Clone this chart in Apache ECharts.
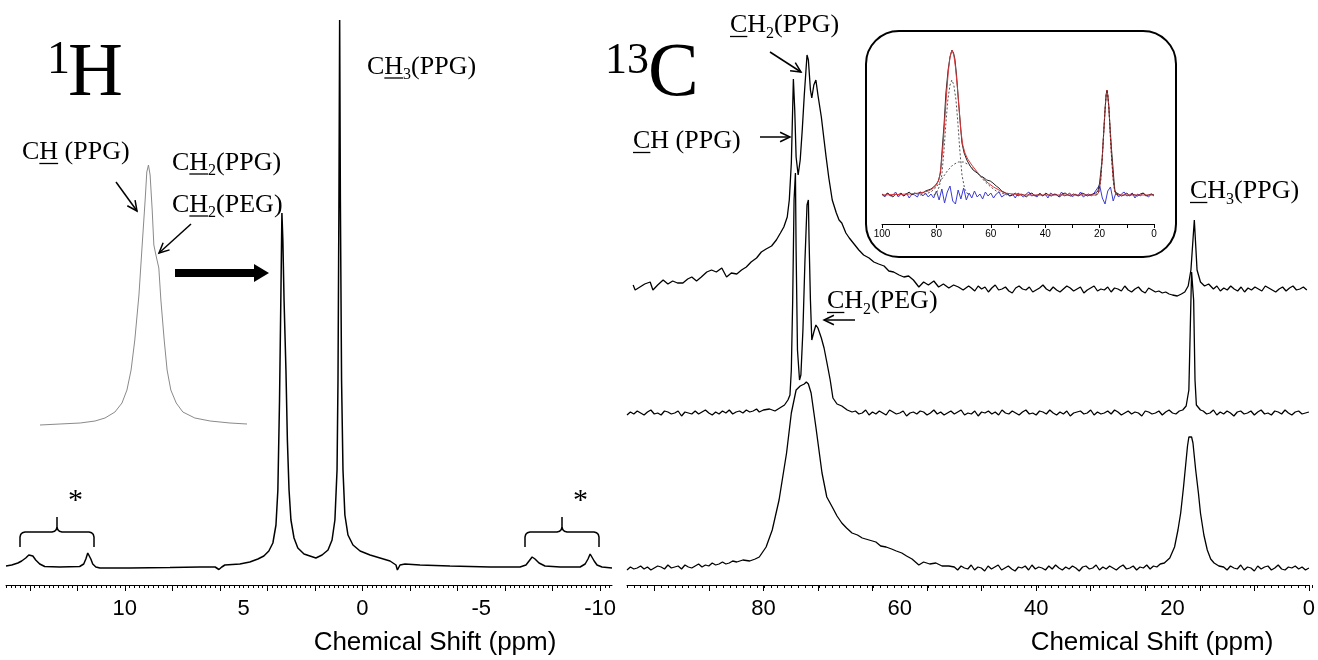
<!DOCTYPE html>
<html>
<head>
<meta charset="utf-8">
<script src="https://cdn.jsdelivr.net/npm/echarts@6/dist/echarts.min.js"></script>
<style>
  html, body { margin: 0; padding: 0; background: #fff; }
  #chart { width: 1318px; height: 660px; }
</style>
</head>
<body>
<div id="chart"></div>
<script>
// ---------- helpers ----------
// spread a run of read-off baseline values evenly between two shifts
function span(from, to, vals) {
  const n = vals.length, step = n > 1 ? (to - from) / (n - 1) : 0;
  return vals.map((v, i) => [+(from + i * step).toFixed(3), v]);
}

// ---------- 1H MAS spectrum: [ppm, intensity] ----------
const H_MAIN = [
  [15.0,1],[14.76,2],[14.5,4],[14.34,6],[14.17,9],[14.04,12],[13.96,13],[13.87,11],[13.75,7],[13.58,3],[13.37,0.5],
  [12.74,0],[11.9,0.5],[11.73,3],[11.64,8],[11.56,14],[11.52,14],[11.43,8],[11.35,3],[11.22,0],[11.05,-1],
  [9.79,-1],[8.1,-0.5],[6.84,0],[6.2,0],[6.04,-2.5],[5.92,0],[5.79,2],[5.16,3],[4.74,5],[4.4,8],[4.15,11],
  [3.94,16],[3.77,24],[3.64,42],[3.56,77],[3.49,167],[3.43,277],[3.39,354],[3.35,327],[3.30,267],[3.26,232],
  [3.22,197],[3.16,127],[3.09,77],[3.01,47],[2.88,29],[2.72,19],[2.46,13],[2.21,11],[1.96,9],[1.70,12],
  [1.45,17],[1.28,27],[1.16,47],[1.07,97],[1.03,187],[0.99,367],[0.96,547],[0.93,367],[0.88,187],[0.82,97],
  [0.74,52],[0.61,32],[0.40,22],[0.10,16],[-0.32,12],[-0.74,9],[-1.16,6],[-1.41,2],[-1.47,-3],[-1.58,2],
  [-1.79,3],[-2.42,2],[-3.68,1],[-5.37,0],[-6.63,0],[-6.88,2],[-7.01,6],[-7.14,10],[-7.26,8],[-7.43,4],
  [-7.68,1],[-8.32,0],[-9.16,0],[-9.37,3],[-9.49,8],[-9.58,13],[-9.66,11],[-9.75,6],[-9.87,2],[-10.08,0],[-10.5,-1]
];

// expanded 1H trace (grey), [ppm, intensity]
const H_INSET = [
  [6.0,0],[5.52,1],[5.03,2],[4.67,4],[4.43,7],[4.19,13],[4.02,22],[3.9,35],[3.8,55],[3.71,85],[3.61,130],
  [3.54,175],[3.46,225],[3.42,253],[3.38,260],[3.34,250],[3.29,215],[3.25,180],[3.2,170],[3.16,168],[3.13,157],
  [3.08,125],[3.0,85],[2.93,55],[2.84,35],[2.71,22],[2.55,13],[2.26,7],[1.89,4],[1.41,2],[1.0,1]
];

// ---------- 13C spectra: [ppm, intensity above own baseline] ----------
const C_TOP = [
  [99.1,4],[98.8,-1],[98.1,2],[97.4,5],[96.6,7],[96.2,-1],[95.5,4],[94.7,9],[94.0,5],[93.3,8],[92.6,6],[91.8,6],
  [91.1,10],[90.5,12],[89.8,8],[89.1,12],[88.3,17],[87.6,19],[86.9,17],[86.1,21],[85.4,12],[84.7,16],[83.9,15],
  [83.2,19],[82.5,22],[81.8,27],[81.0,31],[80.3,37],[79.6,40],[78.8,43],[78.1,49],[77.5,56],[77.0,62],[76.5,72],
  [76.2,89],[75.9,126],[75.6,210],[75.4,179],[75.2,132],[74.9,114],[74.6,129],[74.3,159],[74.0,194],[73.6,234],
  [73.4,229],[73.1,199],[72.9,191],[72.6,204],[72.3,209],[72.0,194],[71.5,172],[71.1,149],[70.8,132],[70.4,111],
  [69.9,89],[69.3,76],[68.9,69],[68.5,66],[67.9,56],[67.4,51],[66.7,45],[66.0,39],[65.3,34],[64.5,31],[63.8,27],
  [63.1,25],[62.3,23],[61.6,18],[60.9,17],[60.1,14],[59.4,12],[58.7,13],[58.0,9],[57.2,2],[56.5,7],[55.8,4],
  [55.0,8],[54.3,2],[53.6,5],[52.8,1],[52.1,4],[51.4,2],[50.7,-1],[49.9,3]
].concat(
  span(49.5, 20.0, [1,-2,3,0,2,-3,1,4,-1,0,2,-2,-4,1,3,0,-1,2,-3,-1,1,4,0,-2,2,-1,-3,0,3,1,-2,0,2,-4,-1,1,3,-2,0,-1,2,-3,1,0,-2,3,-1,-3,0,2,-2,-4,1,-1,-3,-2,-4,-3,-5,-6]),
  [[19.3,-7],[18.7,-5],[18.2,-3],[17.7,3],[17.3,19],[17.0,49],[16.8,69],[16.6,44],[16.4,19],[15.9,7],[15.3,3],[14.7,5]],
  span(14.0, 0.3, [0,3,-2,1,-1,3,0,-2,2,-3,1,-1,2,0,-2,3,1,-1,-3,0,2,-2,1,3,-1,0,2,-1])
);

const C_MID = [].concat(
  span(100, 81, [-2,1,-1,2,0,-2,1,3,-1,0,-2,2,1,-1,0,2,-3,1,0,-1,2,-1,1,3,0,-2,1,-1,2,0,3,-1,1,2,0,3,1,2,4]),
  [[80.6,1],[80.0,3],[79.1,4],[78.3,2],[77.6,5],[76.9,8],[76.4,13],[76.1,18],[75.9,43],[75.7,113],[75.5,213],
   [75.3,240],[75.2,163],[75.0,63],[74.7,33],[74.5,38],[74.2,83],[73.9,153],[73.6,208],[73.4,213],[73.3,173],
   [73.1,113],[72.9,73],[72.6,81],[72.3,88],[72.0,85],[71.5,75],[71.1,65],[70.7,51],[70.2,33],[69.8,15],
   [69.2,9],[68.5,7],[67.7,3],[67.0,1]],
  span(66.5, 19, [2,-1,0,3,-2,1,-1,2,0,-2,3,1,-1,0,2,-3,0,1,-1,2,1,-2,0,3,-1,1,-2,0,2,-1,1,3,-2,0,-1,2,-3,1,0,2,-1,1,-2,3,0,-1,2,0,-2,1,3,-1,0,-2,2,1,-1,3,0,-2,1,-1,2,-3,0,1,2,-1,0,3,-2,1,-1,0,2,-1,3,1,-2,0,2,-1,1,0,-3,2,1,-1,0,2,-2,1,3,0,-1,2]),
  [[18.5,3],[18.0,7],[17.6,23],[17.4,83],[17.2,141],[16.9,113],[16.7,33],[16.5,8],[15.9,3]],
  span(15.5, 0, [2,-1,0,3,-2,1,-1,2,0,-3,1,2,-1,0,2,-2,1,3,-1,0,-2,2,1,-1,3,0,-2,1,2,-1,0,1])
);

const C_BOT = [].concat(
  span(100, 84.5, [-2,1,-1,0,2,-1,1,-2,0,2,1,-1,3,0,1,2,-1,3,1,0,2,4,1,3,2,5,3,4,6,4,5,7]),
  [[83.9,6],[83.0,8],[82.0,7],[81.2,9],[80.6,11],[79.6,21],[78.7,38],[77.7,68],[76.6,115],[75.9,155],[75.2,178],
   [74.6,182],[74.0,184],[73.7,186],[73.4,184],[73.0,175],[72.3,141],[71.4,95],[70.7,71],[69.9,61],[69.2,52],
   [68.5,45],[67.8,40],[67.0,35],[66.2,33],[65.5,30],[64.5,28],[63.5,26],[62.8,22],[62.0,21],[61.2,19],[60.5,17],
   [59.7,15],[59.0,12],[58.2,9],[57.2,3],[56.5,6],[55.6,4],[54.7,5],[53.8,2],[52.8,2]],
  span(52, 21.8, [1,-2,2,0,-1,3,-2,1,0,-3,2,-1,1,3,-2,0,2,-1,-3,1,0,2,-2,3,-1,1,0,-2,2,-1,3,0,-2,1,-1,2,0,-3,1,2,-1,0,3,-2,1,-1,2,0,-2,1,3,-1,0,2,-2,1,0,3,-1,2,1,4]),
  [[21.2,5],[20.4,10],[19.7,21],[19.2,38],[18.8,55],[18.4,80],[18.1,101],[17.8,122],[17.6,131],[17.2,131],
   [17.0,125],[16.6,98],[16.2,75],[15.9,55],[15.4,33],[14.9,18],[14.4,9],[13.9,5],[13.2,2]],
  span(12.5, 0, [1,-2,2,0,-1,3,-2,1,0,-3,2,-1,1,2,-2,0,3,-1,-2,1,0,2,-1,1,-2,0])
);

// vertical stacking of the three 13C traces (panel units)
const C_OFFSETS = { top: 296, mid: 172, bot: 17 };

// ---------- deconvolution inset: [ppm, intensity] ----------
const FIT_EXP = [].concat(
  span(100, 84, [1,-1,2,0,-2,1,0,2,-1,1,3,0,2,1,3,2,4]),
  [[83,5],[82,6],[81,8],[80,11],[79.3,14],[78.5,22],[77.9,45],[77.2,70],[76.5,102],[75.7,125],[75.0,138],
   [74.3,145],[73.7,142],[73.2,136],[72.6,120],[72.1,102],[71.4,78],[70.6,52],[69.8,42],[68.8,35],[67.6,29],
   [66.5,25],[65.0,22],[63.8,19],[62.9,18],[61.5,15],[60.2,14],[59.2,12],[58.0,9],[57.0,7],[56.0,4],[55.5,3],[54.5,2]],
  span(54, 21.5, [1,-1,0,2,-1,1,0,-2,1,2,-1,0,1,-1,2,0,-1,1,0,-2,1,2,0,-1,1,0,-1,2,1,-1,0,1,2]),
  [[21,2],[20.6,4],[20.0,12],[19.1,35],[18.5,62],[18.0,85],[17.6,100],[17.3,105],[17.0,100],[16.6,88],
   [16.2,70],[15.6,45],[15.1,28],[14.6,10],[14.3,3],[13.8,1]],
  span(13, 0, [1,-1,0,2,-1,1,0,-1,1,2,-1,0,1,0])
);
const FIT_SUM = [
  [100,0],[90,1],[86,2],[83,4],[81,7],[80,10],[79,16],[78.3,28],[77.6,48],[77,72],[76.3,100],[75.6,124],[75,138],
  [74.3,145],[73.6,140],[73,128],[72.3,108],[71.6,84],[71,64],[70.3,50],[69.5,42],[68.5,36],[67,30],[65,23],[63,17],
  [61,12],[59,8],[57,5],[55,2],[52,1],[48,0],[21,0],[20.3,3],[19.6,15],[19,38],[18.5,62],[18,85],[17.6,100],
  [17.3,105],[17,100],[16.6,88],[16.1,62],[15.6,38],[15,16],[14.5,5],[14,1],[13,0],[0,0]
];
const FIT_NARROW = [
  [81,0],[80,2],[79,8],[78,20],[77.2,45],[76.5,72],[75.8,95],[75.0,110],[74.3,115],[73.6,110],[72.8,95],
  [72.1,72],[71.4,45],[70.6,20],[69.6,6],[68.5,1],[67.5,0]
];
const FIT_BROAD = [
  [86,0],[84,1],[82,3],[80,8],[78,16],[76,24],[74,30],[72,33],[70,33],[68,30],[66,25],[64,19],[62,13],
  [60,8],[58,4],[56,2],[54,0]
];
const FIT_METHYL = [
  [21.5,0],[20.3,3],[19.6,15],[19,38],[18.5,62],[18,85],[17.6,100],[17.3,105],[17,100],[16.6,88],[16.1,62],
  [15.6,38],[15,16],[14.5,5],[14,1],[13,0]
];
const FIT_RESID = span(100, 0, [
  1,-2,2,-1,0,3,-2,1,-1,2,-3,1,0,-2,3,-1,2,-2,1,-3,
  4,-5,6,-8,3,9,-6,-9,5,-4,7,
  -5,2,-3,4,-2,1,-4,3,-1,2,-3,1,3,-2,0,
  2,-1,1,-3,2,0,-2,1,3,-1,0,-2,2,-1,1,-3,2,0,1,-2,3,-1,0,2,-2,1,-1,3,-2,0,1,-1,2,
  6,10,-3,-9,4,8,-6,2,
  -2,1,3,-1,0,2,-3,1,-1,2,0,-2,1,-1
]);

// ---------- axis ticks and labels ----------
const H_LABELS = [10, 5, 0, -5, -10];
const H_MAJOR = [14, 12, 10, 8, 6, 4, 2, 0, -2, -4, -6, -8, -10];
const C_LABELS = [80, 60, 40, 20, 0];
const C_MAJOR = [96, 88, 80, 72, 64, 56, 48, 40, 32, 24, 16, 8, 0];
const INSET_LABELS = [100, 80, 60, 40, 20, 0];
const INSET_TICKS = [100, 90, 80, 70, 60, 50, 40, 30, 20, 10, 0];
const H_MINOR = [];
for (let i = -52; i <= 75; i++) H_MINOR.push(i / 5);
const C_MINOR = [];
for (let i = 0; i <= 100; i++) C_MINOR.push(i);

// ---------- styling ----------
const SERIF = '"Liberation Serif", "Times New Roman", serif';
const SANS = '"Liberation Sans", Arial, sans-serif';
const mctx = document.createElement('canvas').getContext('2d');
function textW(t, size) { mctx.font = size + 'px ' + SERIF; return mctx.measureText(t).width; }

function txt(x, y, text, size, family, align) {
  return {
    type: 'text', x: x, y: y, z: 10,
    style: {
      text: text, font: size + 'px ' + (family || SERIF), fill: '#000',
      align: align || 'left', verticalAlign: 'middle',
      textAlign: align || 'left', textVerticalAlign: 'middle'
    }
  };
}
// chemical label: parts = [[text, flags]], flags: 'u' underline, 's' subscript
function chem(x, y, parts, size) {
  size = size || 26;
  const out = [];
  let cx = x;
  parts.forEach(function (p) {
    const sub = p[1] && p[1].indexOf('s') >= 0;
    const und = p[1] && p[1].indexOf('u') >= 0;
    const s = sub ? 16 : size;
    out.push(txt(cx, sub ? y + 8 : y, p[0], s));
    const w = textW(p[0], s);
    if (und) out.push({ type: 'line', z: 10, shape: { x1: cx, y1: y + 11, x2: cx + w, y2: y + 11 },
                        style: { stroke: '#000', lineWidth: 1.3 } });
    cx += w;
  });
  return out;
}
function arrow(x1, y1, x2, y2) {
  const a = Math.atan2(y2 - y1, x2 - x1), h = 11, s = 0.45;
  const p1 = [x2 - h * Math.cos(a - s), y2 - h * Math.sin(a - s)];
  const p2 = [x2 - h * Math.cos(a + s), y2 - h * Math.sin(a + s)];
  return [
    { type: 'line', z: 10, shape: { x1: x1, y1: y1, x2: x2, y2: y2 }, style: { stroke: '#000', lineWidth: 1.5 } },
    { type: 'polyline', z: 10, shape: { points: [p1, [x2, y2], p2] }, style: { stroke: '#000', lineWidth: 1.5, fill: null } }
  ];
}
function bracket(x0, x1, yh) {
  const xm = (x0 + x1) / 2;
  return {
    type: 'polyline', z: 10,
    shape: { points: [
      [x0, yh + 15], [x0, yh + 5], [x0 + 0.7, yh + 2.5], [x0 + 2.5, yh + 0.7], [x0 + 5, yh],
      [xm - 5, yh], [xm - 2.5, yh - 0.7], [xm - 0.7, yh - 2.5], [xm, yh - 5], [xm, yh - 15],
      [xm, yh - 5], [xm + 0.7, yh - 2.5], [xm + 2.5, yh - 0.7], [xm + 5, yh],
      [x1 - 5, yh], [x1 - 2.5, yh + 0.7], [x1 - 0.7, yh + 2.5], [x1, yh + 5], [x1, yh + 15]
    ] },
    style: { stroke: '#000', lineWidth: 1.5, fill: null }
  };
}

const graphics = [].concat(
  // nucleus titles
  [txt(47, 61, '1', 46), txt(68, 75, 'H', 76), txt(605, 61, '13', 44), txt(648, 75, 'C', 76)],
  // 1H assignments
  chem(22, 152.5, [['C'], ['H', 'u'], [' (PPG)']]),
  chem(172, 163, [['C'], ['H', 'u'], ['2', 's'], ['(PPG)']]),
  chem(172, 205, [['C'], ['H', 'u'], ['2', 's'], ['(PEG)']]),
  chem(367, 67, [['C'], ['H', 'u'], ['3', 's'], ['(PPG)']]),
  arrow(116, 182, 137, 211),
  arrow(191, 224, 159, 253),
  // 13C assignments
  chem(730, 25.5, [['C', 'u'], ['H'], ['2', 's'], ['(PPG)']]),
  chem(633, 141.5, [['C', 'u'], ['H (PPG)']]),
  chem(827, 301.5, [['C', 'u'], ['H'], ['2', 's'], ['(PEG)']]),
  chem(1190, 191.5, [['C', 'u'], ['H'], ['3', 's'], ['(PPG)']]),
  arrow(770, 52, 801, 72),
  arrow(760, 137, 790, 137),
  arrow(855, 320, 824, 320),
  // expansion arrow
  [{ type: 'polygon', z: 10,
     shape: { points: [[175, 269], [254, 269], [254, 264], [269, 273], [254, 282], [254, 277], [175, 277]] },
     style: { fill: '#000' } }],
  // spinning sidebands
  [bracket(20, 94, 532), bracket(525, 599, 532), txt(68, 501, '*', 30), txt(573, 501, '*', 30)],
  // inset frame
  [{ type: 'rect', z: 0, shape: { x: 866, y: 31, width: 310, height: 226, r: 33 },
     style: { fill: '#fff', stroke: '#000', lineWidth: 2 } }],
  // axis titles
  [txt(435, 643, 'Chemical Shift (ppm)', 26, SANS, 'center'),
   txt(1152, 643, 'Chemical Shift (ppm)', 26, SANS, 'center')]
);

// ---------- axes ----------
const axisBlack = { color: '#000', width: 1 };
const xAxes = [
  { gridIndex: 0, type: 'value', min: -10.5, max: 15, inverse: true,
    axisLine: { show: true, onZero: false, lineStyle: axisBlack },
    axisTick: { show: true, length: 6, customValues: H_MAJOR, lineStyle: axisBlack },
    axisLabel: { customValues: H_LABELS, color: '#000', fontSize: 22, fontFamily: SANS, margin: 13 },
    splitLine: { show: false } },
  { gridIndex: 1, type: 'value', min: -10.5, max: 15, inverse: true,
    axisLine: { show: false, onZero: false },
    axisTick: { show: true, length: 3, customValues: H_MINOR, lineStyle: axisBlack },
    axisLabel: { show: false }, splitLine: { show: false } },
  { gridIndex: 2, type: 'value', min: 1, max: 6, inverse: true, show: false },
  { gridIndex: 3, type: 'value', min: 0, max: 100, inverse: true,
    axisLine: { show: true, onZero: false, lineStyle: axisBlack },
    axisTick: { show: true, length: 6, customValues: C_MAJOR, lineStyle: axisBlack },
    axisLabel: { customValues: C_LABELS, color: '#000', fontSize: 22, fontFamily: SANS, margin: 13 },
    splitLine: { show: false } },
  { gridIndex: 4, type: 'value', min: 0, max: 100, inverse: true,
    axisLine: { show: false, onZero: false },
    axisTick: { show: true, length: 3, customValues: C_MINOR, lineStyle: axisBlack },
    axisLabel: { show: false }, splitLine: { show: false } },
  { gridIndex: 5, type: 'value', min: 0, max: 100, inverse: true,
    axisLine: { show: true, onZero: false, lineStyle: axisBlack },
    axisTick: { show: true, length: 4, customValues: INSET_TICKS, lineStyle: axisBlack },
    axisLabel: { customValues: INSET_LABELS, color: '#000', fontSize: 10, fontFamily: SANS, margin: 5 },
    splitLine: { show: false } }
];
const yRanges = [[-18, 557], [-18, 557], [0, 275], [0, 575], [0, 575], [-29, 155]];
const yAxes = yRanges.map((r, i) => ({ gridIndex: i, type: 'value', min: r[0], max: r[1], show: false }));

const grids = [
  { left: 6, right: 706, top: 10, bottom: 75 },
  { left: 6, right: 706, top: 10, bottom: 75 },
  { left: 40, right: 1071, top: 150, bottom: 235 },
  { left: 627, right: 6, top: 10, bottom: 75 },
  { left: 627, right: 6, top: 10, bottom: 75 },
  { left: 882, right: 164, top: 40, bottom: 436 }
];

function trace(data, axis, color, width, type, offset) {
  return {
    type: 'line', xAxisIndex: axis, yAxisIndex: axis, z: 3,
    data: offset ? data.map(p => [p[0], p[1] + offset]) : data,
    showSymbol: false, symbol: 'none', silent: true, clip: false,
    lineStyle: { color: color, width: width, type: type || 'solid' }
  };
}

const series = [
  trace(H_MAIN, 0, '#000', 1.5),
  trace(H_INSET, 2, '#8a8a8a', 1),
  trace(C_TOP, 3, '#000', 1.3, 'solid', C_OFFSETS.top),
  trace(C_MID, 3, '#000', 1.3, 'solid', C_OFFSETS.mid),
  trace(C_BOT, 3, '#000', 1.3, 'solid', C_OFFSETS.bot),
  trace(FIT_RESID, 5, '#3b3bd6', 1),
  trace(FIT_EXP, 5, '#222', 1),
  trace(FIT_SUM, 5, '#d9373a', 1),
  trace(FIT_NARROW, 5, '#555', 1, [2, 2]),
  trace(FIT_BROAD, 5, '#555', 1, [2, 2]),
  trace(FIT_METHYL, 5, '#333', 1, [2, 2])
];

const chart = echarts.init(document.getElementById('chart'), null, { renderer: 'canvas' });
chart.setOption({
  animation: false,
  backgroundColor: '#fff',
  grid: grids,
  xAxis: xAxes,
  yAxis: yAxes,
  series: series,
  graphic: { elements: graphics }
});
</script>
</body>
</html>
